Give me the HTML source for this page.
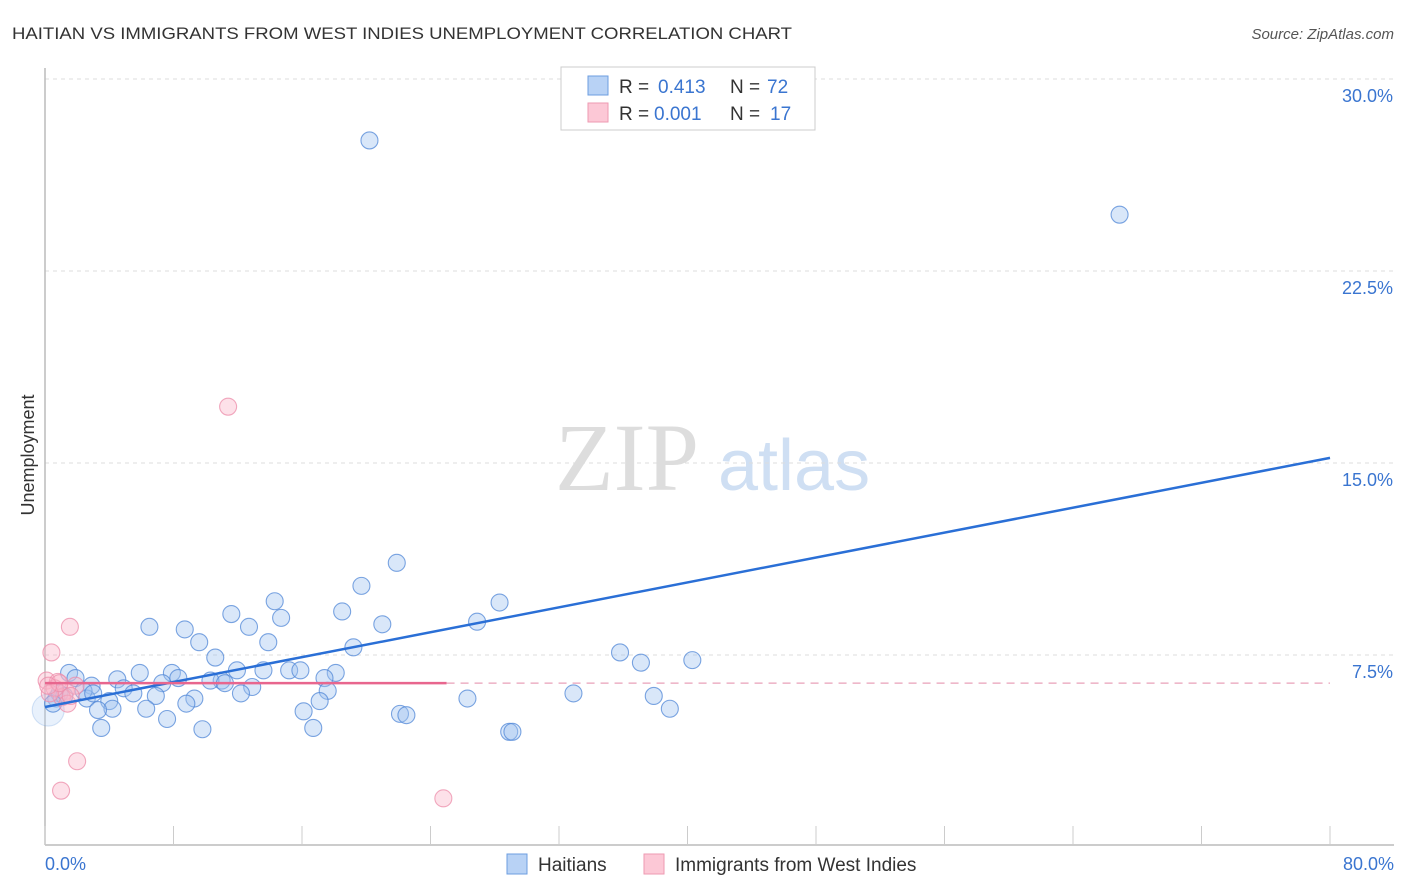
<!DOCTYPE html>
<html><head><meta charset="utf-8"><style>
body{margin:0;background:#fff;font-family:"Liberation Sans",sans-serif;}
svg{display:block}
</style></head><body>
<svg width="1406" height="892">
<text x="12" y="39" font-size="17" fill="#333" textLength="780" lengthAdjust="spacingAndGlyphs">HAITIAN VS IMMIGRANTS FROM WEST INDIES UNEMPLOYMENT CORRELATION CHART</text>
<text x="1394" y="39" font-size="15" fill="#555" font-style="italic" text-anchor="end">Source: ZipAtlas.com</text>
<text x="555" y="490" font-size="96" fill="#ddd" font-family="Liberation Serif">ZIP</text>
<text x="718" y="490" font-size="72" fill="#cfdff3">atlas</text>
<g id="grid"></g>
<g id="axes"></g>
<g id="pts"></g>
<g id="lines"></g>
<text x="34" y="455" font-size="18" fill="#333" text-anchor="middle" transform="rotate(-90 34 455)">Unemployment</text>
<text x="45" y="870" font-size="18" fill="#3a75d0">0.0%</text>
<text x="1394" y="870" font-size="18" fill="#3a75d0" text-anchor="end">80.0%</text>
<g>
<rect x="507" y="854" width="20" height="20" fill="#b8d2f5" stroke="#6c9ee0"/>
<text x="538" y="871" font-size="19" fill="#333">Haitians</text>
<rect x="644" y="854" width="20" height="20" fill="#fcc8d6" stroke="#ee9ab2"/>
<text x="675" y="871" font-size="19" fill="#333">Immigrants from West Indies</text>
</g>
<g>
<rect x="561" y="67" width="254" height="63" fill="#fff" stroke="#ccc"/>
<rect x="588" y="76" width="20" height="19" fill="#b8d2f5" stroke="#6c9ee0"/>
<text x="619" y="93" font-size="19" fill="#333">R =</text>
<text x="658" y="93" font-size="19" fill="#3a75d0">0.413</text>
<text x="730" y="93" font-size="19" fill="#333">N =</text>
<text x="767" y="93" font-size="19" fill="#3a75d0">72</text>
<rect x="588" y="103" width="20" height="19" fill="#fcc8d6" stroke="#ee9ab2"/>
<text x="619" y="120" font-size="19" fill="#333">R =</text>
<text x="654" y="120" font-size="19" fill="#3a75d0">0.001</text>
<text x="730" y="120" font-size="19" fill="#333">N =</text>
<text x="770" y="120" font-size="19" fill="#3a75d0">17</text>
</g>
</svg>
<script>
const yTicks=[7.5,15,22.5,30];
const yTickLabels=["7.5%","15.0%","22.5%","30.0%"];
const xTicks=[0,8,16,24,32,40,48,56,64,72,80];
const haitiansX=[20.2,66.9,21.9,19.7,14.3,28.3,11.6,18.5,14.7,6.5,12.7,8.7,21.0,26.9,9.6,13.9,19.2,35.8,37.1,40.3,10.6,1.5,5.9,7.9,11.95,13.6,15.2,15.9,18.1,4.5,8.3,17.4,1.9,11.0,10.3,11.2,2.9,7.3,4.9,5.5,12.9,17.6,12.2,32.9,6.9,4.0,9.3,2.6,37.9,17.1,26.3,8.8,4.2,3.3,6.3,16.1,38.9,22.1,22.5,7.6,3.5,9.8,16.7,28.9,29.1,0.7,0.9,0.2,2.4,1.2,3.0,0.5];
const haitiansY=[27.6,24.7,11.1,10.2,9.6,9.55,9.1,9.2,8.95,8.6,8.6,8.5,8.7,8.8,8.0,8.0,7.8,7.6,7.2,7.3,7.4,6.8,6.8,6.8,6.9,6.9,6.9,6.9,6.8,6.55,6.6,6.6,6.6,6.5,6.5,6.4,6.3,6.4,6.2,6.0,6.25,6.1,6.0,6.0,5.9,5.7,5.8,5.8,5.9,5.7,5.8,5.6,5.4,5.35,5.4,5.3,5.4,5.2,5.15,5.0,4.65,4.6,4.65,4.5,4.5,5.8,6.0,5.35,6.1,5.9,6.0,5.6];
const westIndiesX=[11.4,1.55,0.4,0.1,0.8,1.3,1.9,1.05,1.4,0.6,2.0,1.0,24.8,0.3,0.9,1.6,0.2];
const westIndiesY=[17.2,8.6,7.6,6.5,6.45,6.1,6.3,5.85,5.6,6.2,3.35,2.2,1.9,6.0,6.4,5.9,6.3];
const blueTrend=[5.47,15.2];
const pinkTrend=6.4;
const pinkSolidEnd=25.0;
const X=v=>45+v*(1285/80), Y=v=>847-v*25.6;
const ns="http://www.w3.org/2000/svg";
function mk(p,t,a){const e=document.createElementNS(ns,t);for(const k in a)e.setAttribute(k,a[k]);p.appendChild(e);return e;}
const g=document.getElementById('grid'),ax=document.getElementById('axes'),pts=document.getElementById('pts'),ln=document.getElementById('lines');
yTicks.forEach((t,i)=>{
 const l=mk(g,'line',{x1:45,x2:1394,y1:Y(t),y2:Y(t),stroke:'#ddd','stroke-dasharray':'4,4'});
 
 
 const tx=mk(g,'text',{x:1393,y:Y(t)+23,'font-size':18,fill:'#3a75d0','text-anchor':'end'});
 tx.textContent=yTickLabels[i];
 
 
});
const xa=mk(ax,'line',{x1:45,x2:1394,y1:845,y2:845,stroke:'#bbb','stroke-width':1.5});


const ya=mk(ax,'line',{x1:45,x2:45,y1:68,y2:845,stroke:'#bbb','stroke-width':1.5});


xTicks.forEach(t=>{const l=mk(ax,'line',{x1:X(t),x2:X(t),y1:826,y2:845,stroke:'#ccc'});
 
 });
haitiansX.forEach((v,i)=>{const big=i==67;const c=mk(pts,'circle',{cx:X(v),cy:Y(haitiansY[i]),r:big?16:8.5,fill:big?'rgba(180,208,244,0.3)':'rgba(160,196,240,0.4)',stroke:big?'rgba(93,147,220,0.25)':'rgba(80,135,215,0.75)','stroke-width':1.1});
 
 });
westIndiesX.forEach((v,i)=>{const c=mk(pts,'circle',{cx:X(v),cy:Y(westIndiesY[i]),r:8.5,fill:'rgba(250,180,200,0.4)',stroke:'rgba(236,140,170,0.75)','stroke-width':1.1});
 
 });
const bl=mk(ln,'line',{x1:X(0),y1:Y(blueTrend[0]),x2:X(80),y2:Y(blueTrend[1]),stroke:'#2a6fd6','stroke-width':2.5});


const pl=mk(ln,'line',{x1:X(0),y1:Y(pinkTrend),x2:X(pinkSolidEnd),y2:Y(pinkTrend),stroke:'#e8668e','stroke-width':2.5});


const pd=mk(ln,'line',{x1:X(pinkSolidEnd),y1:Y(pinkTrend),x2:X(80),y2:Y(pinkTrend),stroke:'#e8a0b8','stroke-width':1.3,'stroke-dasharray':'8,6'});


</script>
</body></html>
